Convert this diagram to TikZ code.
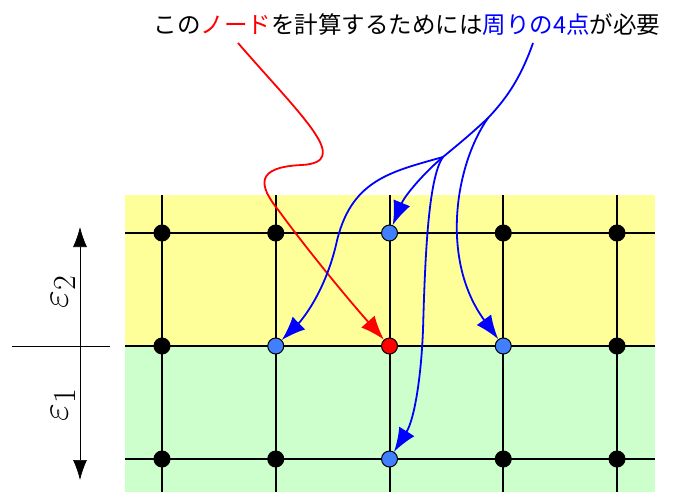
\documentclass[tikz,border=0pt]{standalone}
\usepackage{fontspec}
\usepackage{amsmath}
\usetikzlibrary{arrows.meta}
\newfontfamily\jpfont{Noto Sans CJK JP}
\definecolor{upperFill}{HTML}{FFFF99}
\definecolor{lowerFill}{HTML}{CCFFCC}
\definecolor{nbrBlue}{HTML}{4080FF}

\begin{document}
\begin{tikzpicture}[x=1pt, y=-1pt,
    grid node/.style={circle, draw=black, fill=black, inner sep=0pt, minimum size=16pt, line width=1pt},
    nbr node/.style={grid node, fill=nbrBlue},
    target node/.style={grid node, fill=red},
    pointer/.style={-{Latex[length=24pt, width=18pt]}, line width=1.8pt},
    eps label/.style={rotate=90, inner sep=0pt}]
    \useasboundingbox (0, 0) rectangle (684, 492);
    \fill[upperFill] (125, 195) rectangle (655, 346);
    \fill[lowerFill] (125, 346) rectangle (655, 492);

    \foreach \y in {233, 346, 459}
        \draw[line width=1.8pt] (125, \y) -- (655, \y);
    \foreach \x in {162, 276, 390, 503, 617}
        \draw[line width=1.8pt] (\x, 195) -- (\x, 492);

    \foreach \i/\j/\kind in {1/1/grid, 2/1/grid, 3/1/nbr, 4/1/grid, 5/1/grid,
                             1/2/grid, 2/2/nbr, 3/2/target, 4/2/nbr, 5/2/grid,
                             1/3/grid, 2/3/grid, 3/3/nbr, 4/3/grid, 5/3/grid}
        \node[\kind\space node] (n-\i-\j) at ({162 + 113.75*(\i - 1)}, {233 + 113*(\j - 1)}) {};

    \coordinate (eps-top) at (80, 227);
    \coordinate (eps-bot) at (80, 480);
    \draw[line width=0.7pt] (12, 346) -- (110, 346);
    \draw[{Latex[length=20pt, width=14pt]}-{Latex[length=20pt, width=14pt]}, line width=0.7pt] (eps-top) -- (eps-bot);
    \node[eps label] (eps-2) at (63, 292) {\scalebox{1.55}{\Huge$\varepsilon_2$}};
    \node[eps label] (eps-1) at (63, 405) {\scalebox{1.55}{\Huge$\varepsilon_1$}};

    \node[font=\jpfont\fontsize{23.5}{28}\selectfont] (title) at (407, 25)
        {この\textcolor{red}{ノード}を計算するためには\textcolor{blue}{周りの4点}が必要};

    \coordinate (red-from) at (238, 43);
    \coordinate (blue-from) at (533, 43);
    \coordinate (fork-a) at (488, 118);
    \coordinate (fork-b) at (443, 157);

    \draw[pointer, red] (red-from) .. controls (305, 120) and (352, 162) .. (302, 165)
        .. controls (255, 167) and (258, 185) .. (279, 211)
        .. controls (300, 240) and (340, 290) .. (n-3-2);

    \draw[blue, line width=1.8pt] (blue-from) .. controls (520, 80) and (505, 100) .. (fork-a)
        .. controls (470, 135) and (455, 147) .. (fork-b);
    \draw[pointer, blue] (fork-b) .. controls (425, 172) and (405, 195) .. (n-3-1);
    \draw[pointer, blue] (fork-b) .. controls (390, 172) and (350, 180) .. (336, 245)
        .. controls (324, 295) and (300, 322) .. (n-2-2);
    \draw[pointer, blue] (fork-b) .. controls (428, 178) and (425, 260) .. (423, 330)
        .. controls (421, 380) and (414, 420) .. (n-3-3);
    \draw[pointer, blue] (fork-a) .. controls (455, 165) and (440, 260) .. (n-4-2);
\end{tikzpicture}
\end{document}
